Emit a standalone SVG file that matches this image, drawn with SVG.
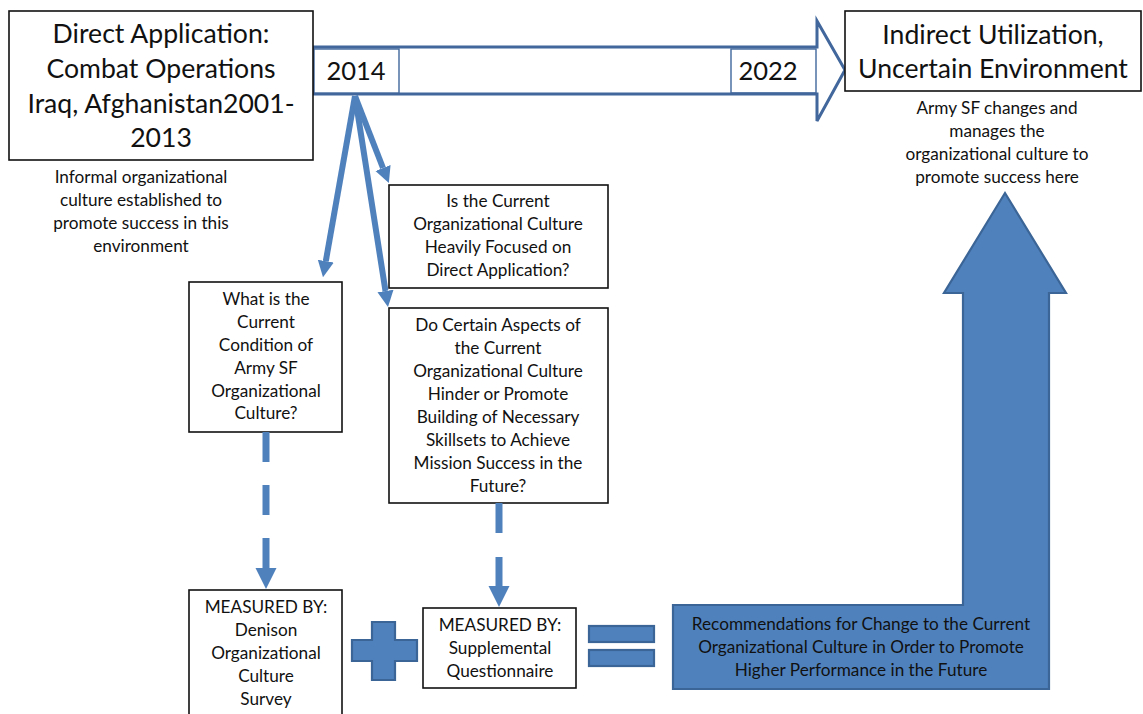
<svg xmlns="http://www.w3.org/2000/svg" width="1143" height="714" viewBox="0 0 1143 714">
<defs>
<style>
text{font-family:Lato,"Open Sans","Liberation Sans",sans-serif;fill:#111;text-anchor:middle}
.big{font-size:26.6px}
.med{font-size:25.5px}
.sm{font-size:17.2px}
.box{fill:#fff;stroke:#111;stroke-width:1.6}
.blue{fill:#4F81BD;stroke:#3B6596;stroke-width:2.2}
.conn{stroke:#4F81BD;stroke-width:6;fill:none}
.dash{stroke:#4F81BD;stroke-width:7;fill:none}
</style>
<marker id="ah" viewBox="0 0 10 10" refX="0" refY="5" markerWidth="2.7" markerHeight="2.8" markerUnits="strokeWidth" orient="auto">
<path d="M0,0 L10,5 L0,10 z" fill="#4F81BD"/>
</marker>
<marker id="ahd" viewBox="0 0 10 10" refX="0" refY="5" markerWidth="3" markerHeight="3.3" markerUnits="strokeWidth" orient="auto">
<path d="M0,0 L10,5 L0,10 z" fill="#4F81BD"/>
</marker>
</defs>

<g id="timeline">
<polygon points="313,47 817,47 817,21 845,70 817,121 817,94 313,94" fill="#fff" stroke="#41679C" stroke-width="3"/>
<rect x="314" y="49" width="85" height="44" fill="#fff" stroke="#41679C" stroke-width="1.4"/>
<rect x="731" y="49" width="85" height="44" fill="none" stroke="#41679C" stroke-width="1.4"/>
<text class="med" x="356" y="80">2014</text>
<text class="med" x="768" y="80">2022</text>
</g>

<g id="node-direct">
<rect class="box" x="9" y="11" width="304" height="149"/>
<text class="big" x="161" y="43">Direct Application:</text>
<text class="big" x="161" y="78">Combat Operations</text>
<text class="big" x="161" y="113">Iraq, Afghanistan2001-</text>
<text class="big" x="161" y="147">2013</text>
</g>

<g id="note-informal">
<text class="sm" x="141" y="183">Informal organizational</text>
<text class="sm" x="141" y="206">culture established to</text>
<text class="sm" x="141" y="229">promote success in this</text>
<text class="sm" x="141" y="252">environment</text>
</g>

<g id="node-indirect">
<rect class="box" x="845" y="11" width="296" height="80"/>
<text class="big" x="993" y="44">Indirect Utilization,</text>
<text class="big" x="993" y="78">Uncertain Environment</text>
</g>

<g id="note-army">
<text class="sm" x="997" y="114">Army SF changes and</text>
<text class="sm" x="997" y="137">manages the</text>
<text class="sm" x="997" y="160">organizational culture to</text>
<text class="sm" x="997" y="183">promote success here</text>
</g>

<g id="node-condition">
<rect class="box" x="189" y="282" width="153" height="150"/>
<text class="sm" x="266" y="305">What is the</text>
<text class="sm" x="266" y="328">Current</text>
<text class="sm" x="266" y="351">Condition of</text>
<text class="sm" x="266" y="374">Army SF</text>
<text class="sm" x="266" y="397">Organizational</text>
<text class="sm" x="266" y="419">Culture?</text>
</g>

<g id="node-focused">
<rect class="box" x="389" y="185" width="219" height="103"/>
<text class="sm" x="498" y="207">Is the Current</text>
<text class="sm" x="498" y="230">Organizational Culture</text>
<text class="sm" x="498" y="253">Heavily Focused on</text>
<text class="sm" x="498" y="276">Direct Application?</text>
</g>

<g id="node-aspects">
<rect class="box" x="389" y="308" width="219" height="195"/>
<text class="sm" x="498" y="331">Do Certain Aspects of</text>
<text class="sm" x="498" y="354">the Current</text>
<text class="sm" x="498" y="377">Organizational Culture</text>
<text class="sm" x="498" y="400">Hinder or Promote</text>
<text class="sm" x="498" y="423">Building of Necessary</text>
<text class="sm" x="498" y="446">Skillsets to Achieve</text>
<text class="sm" x="498" y="469">Mission Success in the</text>
<text class="sm" x="498" y="492">Future?</text>
</g>

<g id="node-denison">
<rect class="box" x="189" y="590" width="153" height="130"/>
<text class="sm" x="266" y="613">MEASURED BY:</text>
<text class="sm" x="266" y="636">Denison</text>
<text class="sm" x="266" y="659">Organizational</text>
<text class="sm" x="266" y="682">Culture</text>
<text class="sm" x="266" y="705">Survey</text>
</g>

<g id="node-questionnaire">
<rect class="box" x="423" y="608" width="153" height="80"/>
<text class="sm" x="500" y="631">MEASURED BY:</text>
<text class="sm" x="500" y="654">Supplemental</text>
<text class="sm" x="500" y="677">Questionnaire</text>
</g>

<g id="plus">
<polygon class="blue" points="372,622 395,622 395,640 417,640 417,661 395,661 395,680 372,680 372,661 352,661 352,640 372,640"/>
</g>

<g id="equals">
<rect class="blue" x="589" y="626" width="65" height="16"/>
<rect class="blue" x="589" y="650" width="65" height="16"/>
</g>

<g id="node-recommendations">
<polygon class="blue" points="673,605 963,605 963,293 944,293 1005,193 1066,293 1049,293 1049,689 673,689"/>
<text class="sm" x="861" y="630">Recommendations for Change to the Current</text>
<text class="sm" x="861" y="653">Organizational Culture in Order to Promote</text>
<text class="sm" x="861" y="676">Higher Performance in the Future</text>
</g>

<g id="connectors">
<line class="conn" x1="355" y1="96" x2="325.8" y2="261.2" marker-end="url(#ah)"/>
<line class="conn" x1="355" y1="96" x2="385.5" y2="291" marker-end="url(#ah)"/>
<line class="conn" x1="355" y1="96" x2="383" y2="168" marker-end="url(#ah)"/>
<line class="dash" x1="266" y1="432" x2="266" y2="568" stroke-dasharray="30 23" marker-end="url(#ahd)"/>
<line class="dash" x1="499" y1="503" x2="499" y2="586" stroke-dasharray="30 24" marker-end="url(#ahd)"/>
</g>
</svg>
